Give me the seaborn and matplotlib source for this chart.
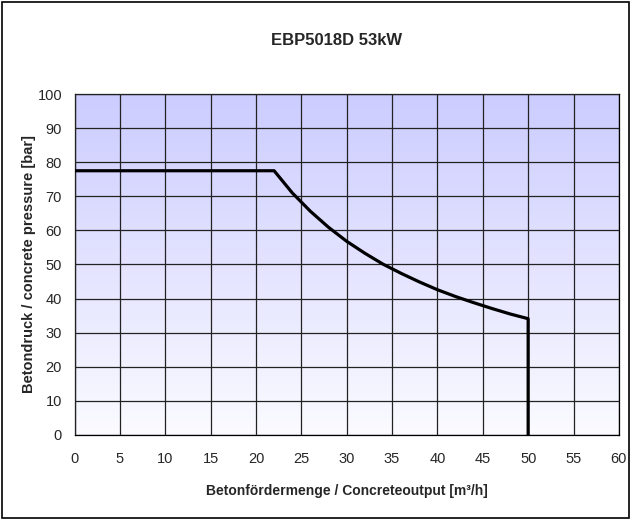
import matplotlib
matplotlib.use("Agg")
import matplotlib.pyplot as plt
import seaborn as sns
import numpy as np
import pandas as pd
from matplotlib.colors import LinearSegmentedColormap

# Data
output_m3h = [0, 22, 24, 26, 28, 30, 32, 34, 36, 38, 40, 42, 44, 46, 48, 50, 50]
pressure_bar = [77.5, 77.5, 71.0, 65.6, 60.9, 56.8, 53.3, 50.1, 47.4, 44.9, 42.6, 40.6, 38.8, 37.1, 35.5, 34.1, 0]
x_ticks = list(range(0, 61, 5))
y_ticks = list(range(0, 101, 10))
title = "EBP5018D 53kW"
xlabel = "Betonfördermenge / Concreteoutput [m³/h]"
ylabel = "Betondruck / concrete pressure [bar]"

sns.set_theme(style="white")
plt.rcParams['font.family'] = ['Liberation Sans', 'DejaVu Sans']

fig = plt.figure(figsize=(6.31, 5.20), dpi=100)
ax = fig.add_axes([0.1181, 0.1635, 0.8627, 0.6557])

# gradient background
cmap = LinearSegmentedColormap.from_list("bg", ["#FBFBFF", "#CCCCFF"])
grad = np.linspace(0, 1, 256).reshape(-1, 1)
ax.imshow(grad, extent=[0, 60, 0, 100], origin="lower", aspect="auto", cmap=cmap, zorder=0)

df = pd.DataFrame({"x": output_m3h, "y": pressure_bar})
sns.lineplot(data=df, x="x", y="y", sort=False, estimator=None, color="black", linewidth=2.3, ax=ax, zorder=3)

ax.set_xlim(0, 60)
ax.set_ylim(0, 100)
ax.set_xticks(x_ticks)
ax.set_yticks(y_ticks)
ax.grid(True, color="#222222", linewidth=0.9, zorder=1)
ax.set_axisbelow(False)
for s in ax.spines.values():
    s.set_color("black")
    s.set_linewidth(0.9)
ax.tick_params(axis="both", direction="out", length=4, width=0.8, color="black", labelsize=10.5, pad=5)
ax.tick_params(axis="x", pad=8)

ax.set_xlabel(xlabel, fontsize=10, fontweight="bold", labelpad=13)
ax.set_ylabel(ylabel, fontsize=10.5, fontweight="bold", labelpad=1)
fig.text(0.533, 0.922, title, ha="center", va="center", fontsize=12, fontweight="bold")

# figure border
fig.patches.append(plt.Rectangle((0.003, 0.003), 0.994, 0.994, transform=fig.transFigure,
                                 fill=False, edgecolor="black", linewidth=1.2))

fig.savefig("out.png", dpi=100)
